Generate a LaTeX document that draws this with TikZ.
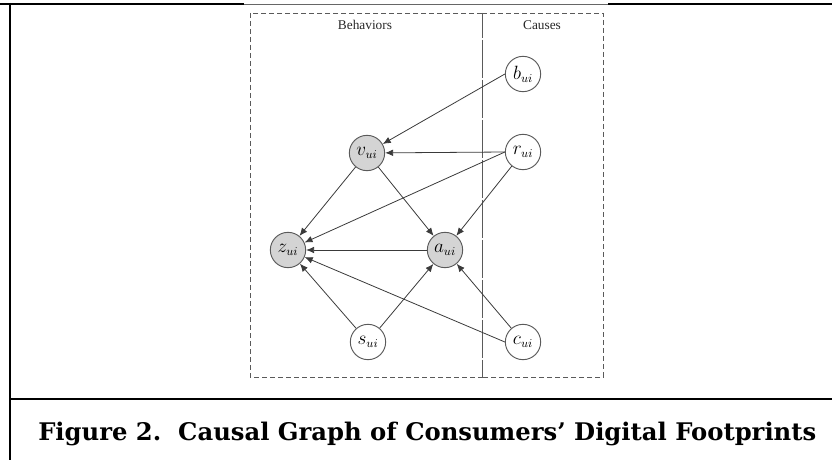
\documentclass[tikz,border=0pt]{standalone}
\usepackage{fontspec}
\newfontfamily\labelfont{Liberation Serif}
\newfontfamily\captionfont{DejaVu Serif}
\usetikzlibrary{arrows.meta}
\definecolor{edgegray}{HTML}{3A3A3A}
\definecolor{boxgray}{HTML}{5A5A5A}
\definecolor{nodefill}{HTML}{D4D4D4}
\tikzset{
  var/.style={circle, draw=boxgray, line width=0.7pt, fill=white, minimum size=26.5pt, inner sep=0pt,
    font=\fontsize{13.5}{15}\selectfont},
  obs/.style={var, fill=nodefill},
  edge/.style={draw=edgegray, line width=0.6pt, -{Latex[length=6pt,width=5pt]}},
  region/.style={draw=boxgray, line width=0.7pt, dash pattern=on 4pt off 2pt},
  frame/.style={line width=1.8pt, black},
  grouplabel/.style={font=\labelfont\fontsize{10}{12}\selectfont, text=black!85}
}
\begin{document}
\begin{tikzpicture}[x=0.75pt, y=-0.75pt]
\useasboundingbox (0,0) rectangle (832,460);

% page frame and caption rule
\draw[frame] (0,4) -- (244,4);
\draw[line width=0.6pt, black!60] (244,4) -- (608,4);
\draw[frame] (608,4) -- (832,4);
\draw[frame] (10,3) -- (10,460);
\draw[line width=2pt] (10,399) -- (832,399);

% dashed regions
\draw[region] (250,13) rectangle (482,377);
\draw[region] (482,13) -- (603,13) -- (603,377) -- (482,377);
\draw[draw=boxgray, line width=0.7pt, dash pattern=on 9pt off 1pt] (482,13) -- (482,377);

\node[grouplabel] (lbeh) at (365,25) {Behaviors};
\node[grouplabel] (lcau) at (542,25) {Causes};

% variables
\node[obs] (v) at (367,153) {$v_{ui}$};
\node[obs] (z) at (288,250) {$z_{ui}$};
\node[obs] (a) at (445,250) {$a_{ui}$};
\node[var] (b) at (523,74) {$b_{ui}$};
\node[var] (r) at (523,152) {$r_{ui}$};
\node[var] (s) at (368,342) {$s_{ui}$};
\node[var] (c) at (523,342) {$c_{ui}$};

% causal edges
\draw[edge] (b.west) -- (v);
\draw[edge] (r.west) -- (v);
\draw[edge] (r.west) -- (z);
\draw[edge] (r) -- (a);
\draw[edge] (v) -- (z);
\draw[edge] (v) -- (a);
\draw[edge] (a) -- (z);
\draw[edge] (s) -- (z);
\draw[edge] (s) -- (a);
\draw[edge] (c) -- (a);
\draw[edge] (c.west) -- (z);

% caption
\node[anchor=base west, inner sep=0pt, font=\captionfont\bfseries\fontsize{18.2}{22}\selectfont] (cap) at (38,440)
  {Figure 2.\ \ Causal Graph of Consumers’ Digital Footprints};
\end{tikzpicture}
\end{document}
